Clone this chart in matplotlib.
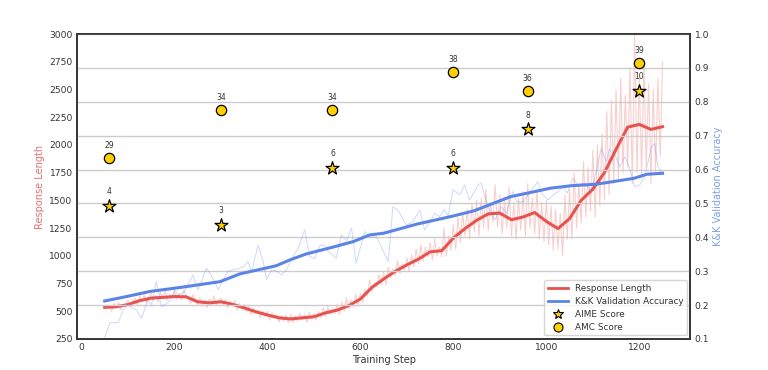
import matplotlib
matplotlib.use("Agg")
import matplotlib.pyplot as plt
from matplotlib.lines import Line2D

# response length, raw values every 5 steps
red_raw_steps = list(range(50, 1251, 5))
red_raw = [
    520, 555, 540, 500, 570, 535, 580, 515, 560, 545,
    600, 540, 585, 620, 560, 640, 590, 650, 575, 630,
    660, 600, 645, 580, 670, 615, 690, 600, 650, 625,
    680, 610, 655, 600, 690, 640, 620, 570, 650, 590,
    560, 620, 545, 600, 530, 610, 560, 640, 550, 600,
    620, 560, 610, 530, 590, 545, 600, 510, 570, 520,
    560, 490, 545, 470, 530, 480, 510, 440, 500, 450,
    500, 420, 490, 440, 470, 400, 460, 410, 465, 395,
    470, 400, 455, 410, 480, 420, 470, 400, 490, 430,
    480, 420, 500, 440, 530, 450, 540, 470, 520, 480,
    560, 470, 580, 500, 620, 520, 600, 540, 650, 560,
    660, 580, 700, 640, 780, 680, 760, 720, 830, 740,
    850, 740, 900, 800, 880, 820, 960, 840, 930, 870,
    980, 860, 1010, 900, 1060, 930, 1100, 950, 1080, 990,
    1120, 960, 1150, 1000, 1080, 990, 1250, 1000, 1180, 1050,
    1280, 1060, 1350, 1120, 1380, 1180, 1420, 1150, 1470, 1220,
    1500, 1180, 1520, 1250, 1600, 1230, 1480, 1300, 1640, 1260,
    1550, 1200, 1500, 1250, 1620, 1180, 1480, 1150, 1520, 1230,
    1580, 1180, 1650, 1250, 1520, 1200, 1600, 1150, 1480, 1130,
    1500, 1100, 1450, 1050, 1420, 1060, 1380, 1000, 1550, 1150,
    1600, 1150, 1750, 1250, 1650, 1300, 1850, 1350, 1800, 1400,
    1950, 1350, 2000, 1450, 2100, 1500, 2300, 1550, 2400, 1650,
    2500, 1700, 2600, 1750, 2450, 1800, 2700, 1650, 2990, 1750,
    2600, 1700, 2750, 1800, 2550, 1650, 2500, 1750, 2600, 1900,
    2750,
]

# smoothed response length
red_smooth_steps = list(range(50, 1251, 25))
red_smooth = [
    535, 540, 560, 595, 618, 625, 632, 630, 585, 575,
    585, 562, 530, 495, 466, 440, 430, 440, 450, 485,
    510, 550, 610, 715, 790, 860, 918, 970, 1035, 1046,
    1160, 1245, 1320, 1378, 1385, 1325, 1350, 1390, 1310, 1245,
    1335, 1500, 1600, 1750, 1960, 2160, 2185, 2140, 2164,
]

# K&K validation accuracy, raw
blue_raw_steps = [
    50, 61, 79, 90, 100, 118, 129, 143, 151, 161, 172, 183, 192, 201, 208,
    222, 240, 251, 269, 283, 294, 305, 315, 328, 341, 350, 358, 366, 380,
    391, 398, 409, 420, 430, 441, 455, 467, 480, 491, 502, 513, 522, 530,
    548, 559, 570, 581, 591, 609, 620, 635, 645, 660, 670, 681, 699, 713,
    728, 738, 750, 760, 770, 781, 789, 799, 814, 824, 835, 853, 860, 874,
    889, 903, 914, 928, 936, 950, 968, 982, 990, 1004, 1015, 1025, 1036,
    1045, 1057, 1068, 1082, 1097, 1108, 1118, 1129, 1136, 1147, 1158, 1169,
    1180, 1190, 1201, 1212, 1226, 1233, 1240, 1251,
]
blue_raw = [
    0.102, 0.148, 0.148, 0.186, 0.200, 0.186, 0.161, 0.215, 0.200, 0.269,
    0.195, 0.205, 0.215, 0.245, 0.230, 0.240, 0.289, 0.245, 0.309, 0.279,
    0.245, 0.275, 0.299, 0.305, 0.309, 0.315, 0.328, 0.299, 0.377, 0.328,
    0.274, 0.304, 0.300, 0.289, 0.304, 0.343, 0.370, 0.422, 0.343, 0.338,
    0.377, 0.377, 0.360, 0.338, 0.407, 0.390, 0.427, 0.323, 0.417, 0.400,
    0.400, 0.372, 0.328, 0.490, 0.480, 0.436, 0.446, 0.481, 0.422, 0.445,
    0.471, 0.460, 0.481, 0.462, 0.540, 0.525, 0.554, 0.510, 0.554, 0.560,
    0.490, 0.451, 0.490, 0.471, 0.535, 0.505, 0.505, 0.540, 0.564, 0.530,
    0.510, 0.525, 0.535, 0.549, 0.530, 0.574, 0.555, 0.560, 0.535, 0.599,
    0.663, 0.623, 0.660, 0.646, 0.608, 0.638, 0.600, 0.549, 0.555, 0.580,
    0.667, 0.677, 0.610, 0.584,
]

blue_smooth_steps = [50, 100, 147, 218, 298, 341, 419, 448, 484, 541, 584, 620, 650,
                     722, 794, 844, 865, 923, 958, 1009, 1052, 1109, 1188, 1216, 1250]
blue_smooth = [0.212, 0.226, 0.240, 0.253, 0.269, 0.292, 0.316, 0.333, 0.351, 0.371,
               0.387, 0.407, 0.412, 0.439, 0.461, 0.478, 0.489, 0.520, 0.530, 0.545,
               0.552, 0.557, 0.574, 0.586, 0.589]

# benchmark scores, marker height on the accuracy axis
eval_steps = [60, 300, 540, 800, 960, 1200]
amc_scores = [29, 34, 34, 38, 36, 39]
amc_y = [0.634, 0.775, 0.775, 0.887, 0.831, 0.915]
aime_scores = [4, 3, 6, 6, 8, 10]
aime_y = [0.493, 0.436, 0.605, 0.605, 0.719, 0.832]

red = "#e8534e"
blue = "#5b84e6"
text_col = "#333333"

plt.rcParams["font.family"] = "DejaVu Sans"
plt.rcParams["font.size"] = 6.6

fig = plt.figure(figsize=(7.68, 3.70), dpi=100)
ax1 = fig.add_axes([0.100, 0.084, 0.799, 0.824])
ax2 = ax1.twinx()

ax1.plot(red_raw_steps, red_raw, color=red, alpha=0.28, linewidth=0.8)
ax1.plot(red_smooth_steps, red_smooth, color=red, linewidth=2.2)
ax1.set_ylim(250, 3000)
ax1.set_yticks(range(250, 3001, 250))
ax1.set_xlim(-10, 1310)
ax1.set_xticks(range(0, 1201, 200))
ax1.set_xlabel("Training Step", color=text_col, fontsize=7, labelpad=2)
ax1.set_ylabel("Response Length", color="#e07070", fontsize=7, labelpad=3)

ax2.grid(axis="y", color="#cccccc", linewidth=1.0)
ax2.set_axisbelow(True)
ax2.plot(blue_raw_steps, blue_raw, color=blue, alpha=0.28, linewidth=0.8)
ax2.plot(blue_smooth_steps, blue_smooth, color=blue, linewidth=2.2)
ax2.scatter(eval_steps, aime_y, marker="*", s=95, color="#ffd000",
            edgecolors="black", linewidths=0.9, zorder=5)
ax2.scatter(eval_steps, amc_y, marker="o", s=55, color="#ffd000",
            edgecolors="black", linewidths=0.9, zorder=5)
for x, y, v in zip(eval_steps, aime_y, aime_scores):
    ax2.annotate(str(v), (x, y), xytext=(0, 7), textcoords="offset points",
                 ha="center", va="bottom", fontsize=5.5, color=text_col)
for x, y, v in zip(eval_steps, amc_y, amc_scores):
    ax2.annotate(str(v), (x, y), xytext=(0, 6), textcoords="offset points",
                 ha="center", va="bottom", fontsize=5.5, color=text_col)
ax2.set_ylim(0.1, 1.0)
ax2.set_yticks([0.1 * i for i in range(1, 11)])
ax2.set_yticklabels([f"{0.1 * i:.1f}" for i in range(1, 11)])
ax2.set_ylabel("K&K Validation Accuracy", color="#7da0e8", fontsize=7, labelpad=3)

for ax in (ax1, ax2):
    ax.tick_params(length=0, pad=3, labelsize=6.6, colors=text_col)
    for sp in ax.spines.values():
        sp.set_color("#333333")
        sp.set_linewidth(1.2)

handles = [
    Line2D([], [], color=red, linewidth=2, label="Response Length"),
    Line2D([], [], color=blue, linewidth=2, label="K&K Validation Accuracy"),
    Line2D([], [], marker="*", linestyle="none", markersize=7, markerfacecolor="#ffd000",
           markeredgecolor="black", markeredgewidth=0.8, label="AIME Score"),
    Line2D([], [], marker="o", linestyle="none", markersize=6.5, markerfacecolor="#ffd000",
           markeredgecolor="black", markeredgewidth=0.8, label="AMC Score"),
]
leg = ax2.legend(handles=handles, loc="lower right", fontsize=6.4, frameon=True,
                 borderaxespad=0.4, handlelength=2.2, labelspacing=0.45,
                 labelcolor=text_col)
leg.get_frame().set_edgecolor("#cccccc")

fig.savefig("out.png", dpi=100)
